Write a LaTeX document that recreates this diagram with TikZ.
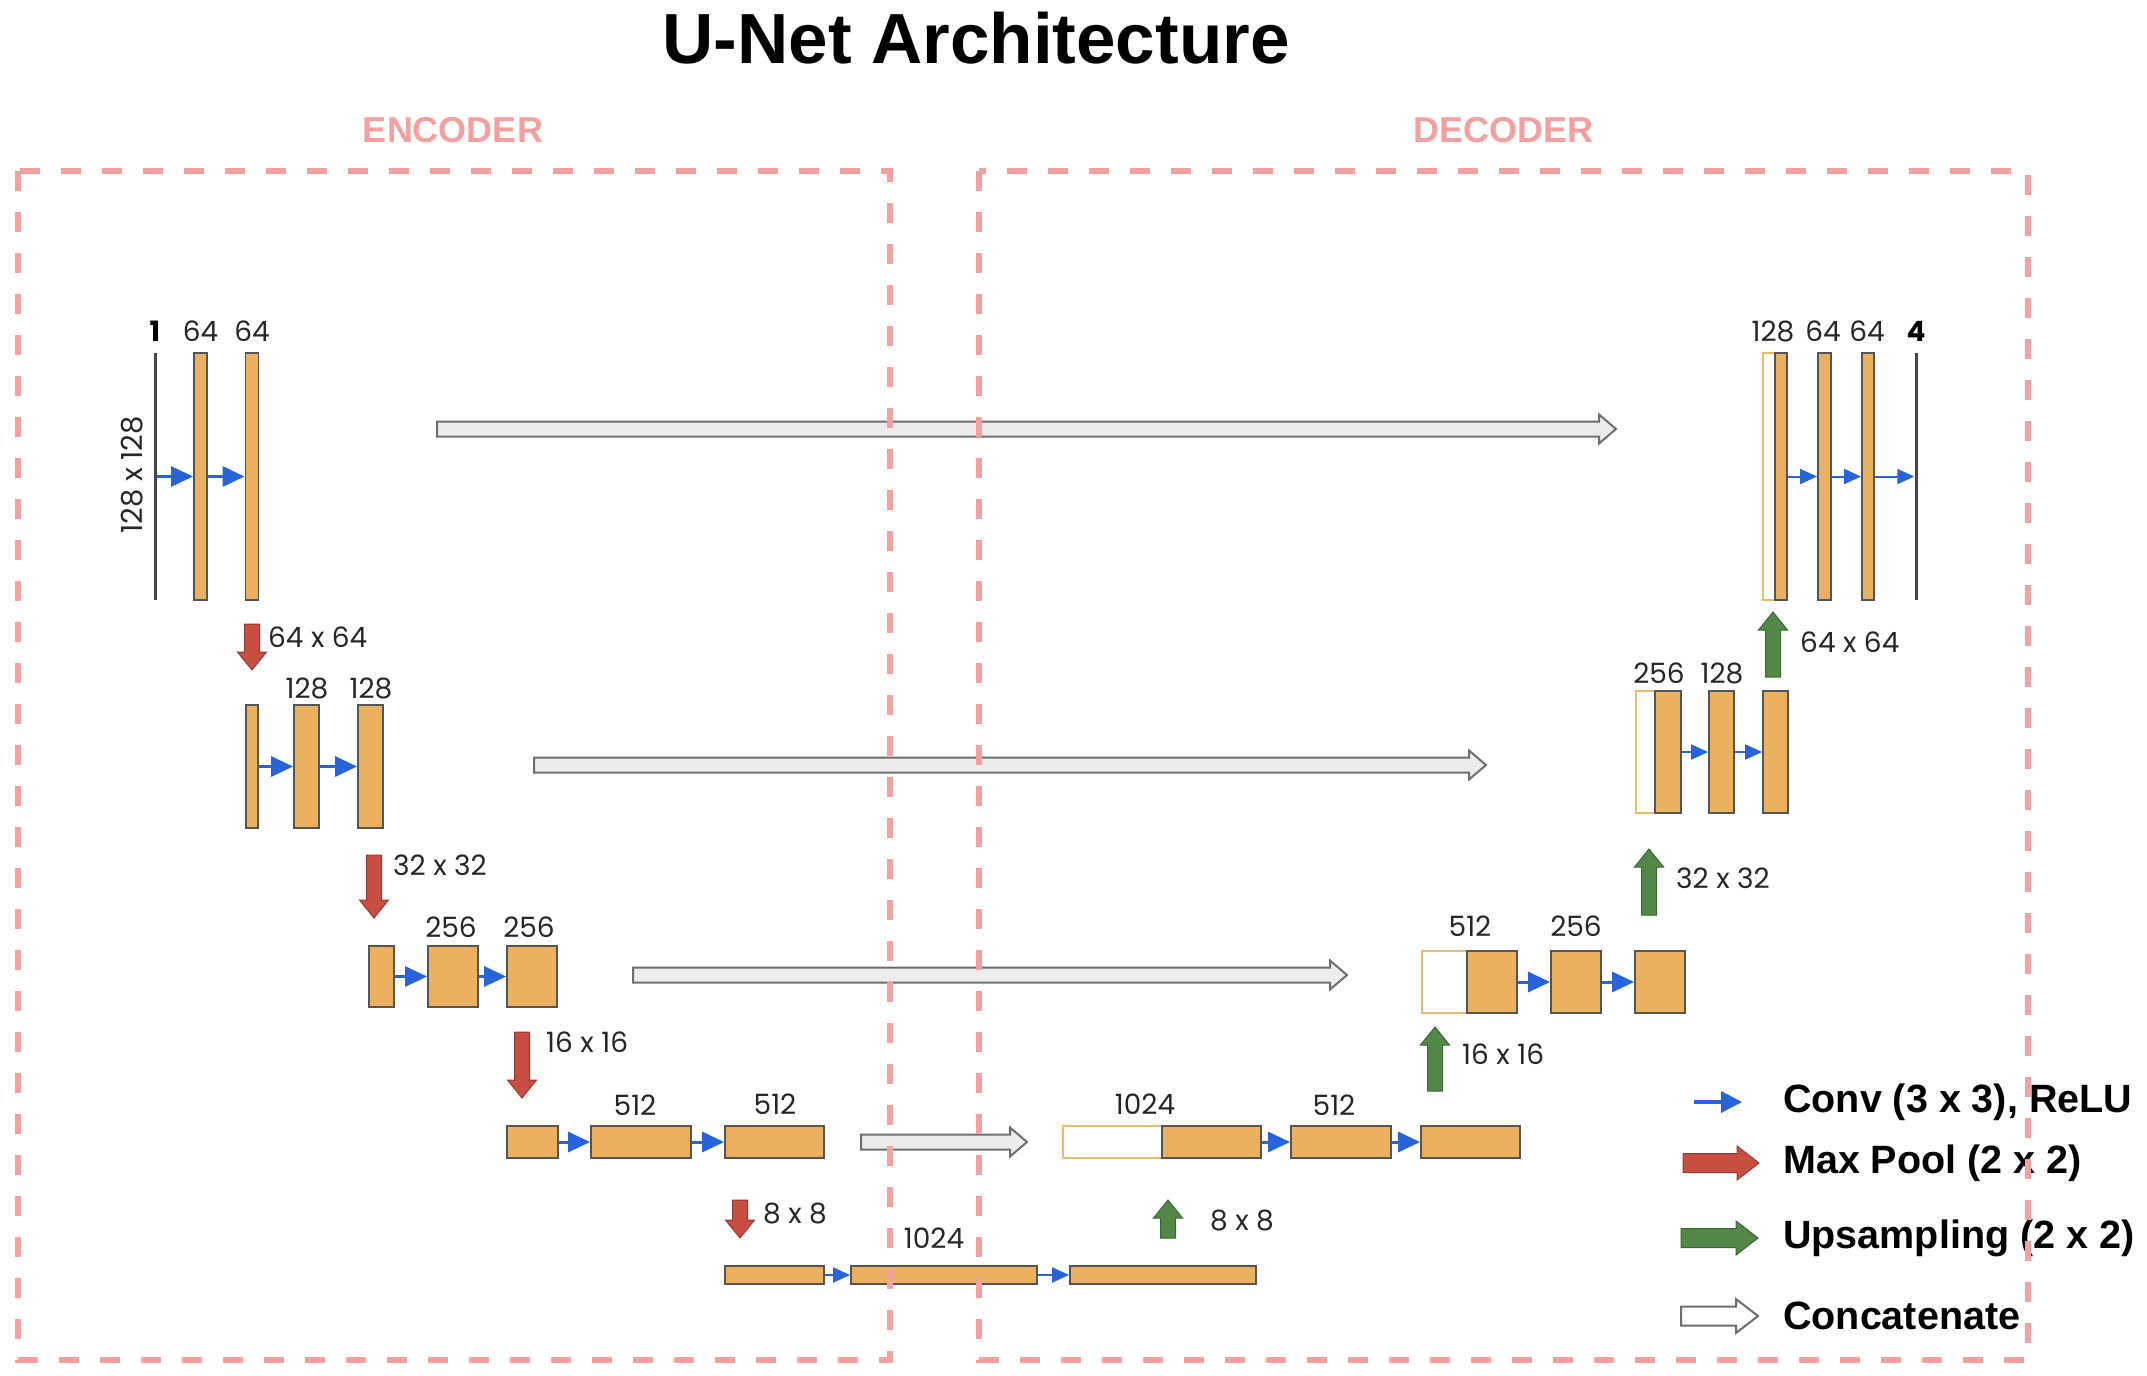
\documentclass[tikz,border=0pt]{standalone}
\usepackage{fontspec}
\setmainfont{Liberation Sans}
\newfontfamily\labfont{Poppins}
\usetikzlibrary{arrows.meta}
\definecolor{boxfill}{RGB}{234,175,95}
\definecolor{boxedge}{RGB}{85,85,85}
\definecolor{wedge}{RGB}{235,185,105}
\definecolor{linegray}{RGB}{70,70,70}
\definecolor{convblue}{RGB}{40,100,215}
\definecolor{poolred}{RGB}{200,78,66}
\definecolor{upgreen}{RGB}{82,135,72}
\definecolor{regionpink}{RGB}{243,160,160}
\definecolor{catfill}{RGB}{236,236,236}
\definecolor{catedge}{RGB}{110,110,110}
% vertical block arrow: style, x, y tail, y tip, shaft half, head half, head length
\newcommand{\vblock}[7]{%
  \pgfmathsetmacro\myvs{ifthenelse(#4>#3,1,-1)}%
  \pgfmathsetmacro\myvb{#4-\myvs*#7}%
  \filldraw[#1] ({#2-#5},#3) -- ({#2-#5},\myvb) -- ({#2-#6},\myvb) -- (#2,#4)
    -- ({#2+#6},\myvb) -- ({#2+#5},\myvb) -- ({#2+#5},#3) -- cycle;}
% horizontal block arrow: style, x tail, x tip, y, shaft half, head half, head length
\newcommand{\hblock}[7]{%
  \pgfmathsetmacro\myhs{ifthenelse(#3>#2,1,-1)}%
  \pgfmathsetmacro\myhb{#3-\myhs*#7}%
  \filldraw[#1] (#2,{#4-#5}) -- (\myhb,{#4-#5}) -- (\myhb,{#4-#6}) -- (#3,#4)
    -- (\myhb,{#4+#6}) -- (\myhb,{#4+#5}) -- (#2,{#4+#5}) -- cycle;}
\begin{document}
\begin{tikzpicture}[x=1pt,y=-1pt,
  blk/.style={draw=boxedge, fill=boxfill, line width=1.8pt, inner sep=0pt},
  wblk/.style={draw=wedge, fill=white, line width=1.5pt, inner sep=0pt},
  inln/.style={fill=linegray, draw=none, minimum width=3pt, inner sep=0pt},
  lab/.style={font=\labfont\fontsize{28}{32}\selectfont, text=black!85, inner sep=0pt},
  boldlab/.style={lab, font=\labfont\bfseries\fontsize{28}{32}\selectfont, text=black},
  dimlab/.style={lab, anchor=west},
  conv/.style={draw=convblue, line width=3pt, -{Triangle[length=22pt,width=20pt]}},
  convs/.style={draw=convblue, line width=2pt, -{Triangle[length=17pt,width=15pt]}},
  pool/.style={fill=poolred, draw=poolred!75!black, line width=1pt},
  upg/.style={fill=upgreen, draw=upgreen!75!black, line width=1pt},
  cat/.style={fill=catfill, draw=catedge, line width=2pt},
  catw/.style={fill=white, draw=catedge, line width=2pt},
  region/.style={draw=regionpink, line width=5.5pt, dash pattern=on 20pt off 21pt},
  leg/.style={anchor=west, font=\bfseries\fontsize{39.5}{44}\selectfont, inner sep=0pt}]
\useasboundingbox (0,0) rectangle (2147,1376);

% title and region names
\node[font=\bfseries\fontsize{71}{80}\selectfont] (title) at (976,38) {U-Net Architecture};
\node[font=\bfseries\fontsize{36}{40}\selectfont, text=regionpink] (enc) at (453,130) {ENCODER};
\node[font=\bfseries\fontsize{36}{40}\selectfont, text=regionpink] (dec) at (1503,130) {DECODER};

% ---------- encoder level 1 ----------
\node[inln, minimum height=247pt] (e1in) at (155,476.5) {};
\node[blk, minimum width=13pt, minimum height=247pt] (e1a) at (200.5,476.5) {};
\node[blk, minimum width=13pt, minimum height=247pt] (e1b) at (252,476.5) {};
\node[boldlab] (l1in) at (155,331) {1};
\node[lab] (l1a) at (200.5,331) {64};
\node[lab] (l1b) at (252,331) {64};
\node[lab, rotate=90, font=\labfont\fontsize{29}{32}\selectfont] (l1dim) at (132,475) {128 x 128};
\draw[conv] (e1in.east) -- (e1a.west);
\draw[conv] (e1a.east) -- (e1b.west);

% ---------- encoder level 2 ----------
\node[blk, minimum width=12pt, minimum height=123pt] (e2a) at (252,766.5) {};
\node[blk, minimum width=25pt, minimum height=123pt] (e2b) at (306.5,766.5) {};
\node[blk, minimum width=25pt, minimum height=123pt] (e2c) at (370.5,766.5) {};
\node[lab] (l2b) at (307,688) {128};
\node[lab] (l2c) at (371,688) {128};
\draw[conv] (e2a.east) -- (e2b.west);
\draw[conv] (e2b.east) -- (e2c.west);

% ---------- encoder level 3 ----------
\node[blk, minimum width=25pt, minimum height=61pt] (e3a) at (381.5,976.5) {};
\node[blk, minimum width=50pt, minimum height=61pt] (e3b) at (453,976.5) {};
\node[blk, minimum width=50pt, minimum height=61pt] (e3c) at (532,976.5) {};
\node[lab] (l3b) at (451,927) {256};
\node[lab] (l3c) at (529,927) {256};
\draw[conv] (e3a.east) -- (e3b.west);
\draw[conv] (e3b.east) -- (e3c.west);

% ---------- encoder level 4 ----------
\node[blk, minimum width=51pt, minimum height=32pt] (e4a) at (532.5,1142) {};
\node[blk, minimum width=100pt, minimum height=32pt] (e4b) at (641,1142) {};
\node[blk, minimum width=99pt, minimum height=32pt] (e4c) at (774.5,1142) {};
\node[lab] (l4b) at (635,1105) {512};
\node[lab] (l4c) at (775,1104) {512};
\draw[conv] (e4a.east) -- (e4b.west);
\draw[conv] (e4b.east) -- (e4c.west);

% ---------- bottleneck ----------
\node[blk, minimum width=99pt, minimum height=18pt] (b5a) at (774.5,1275) {};
\node[blk, minimum width=186pt, minimum height=18pt] (b5b) at (944,1275) {};
\node[blk, minimum width=186pt, minimum height=18pt] (b5c) at (1163,1275) {};
\node[lab] (l5b) at (934,1238) {1024};
\draw[convs] (b5a.east) -- (b5b.west);
\draw[convs] (b5b.east) -- (b5c.west);

% ---------- decoder level 4 ----------
\node[wblk, minimum width=99pt, minimum height=32pt] (d4w) at (1112.5,1142) {};
\node[blk, minimum width=99pt, minimum height=32pt] (d4a) at (1211.5,1142) {};
\node[blk, minimum width=100pt, minimum height=32pt] (d4b) at (1341,1142) {};
\node[blk, minimum width=99pt, minimum height=32pt] (d4c) at (1470.5,1142) {};
\node[lab] (ld4a) at (1145,1104) {1024};
\node[lab] (ld4b) at (1334,1105) {512};
\draw[conv] (d4a.east) -- (d4b.west);
\draw[conv] (d4b.east) -- (d4c.west);

% ---------- decoder level 3 ----------
\node[wblk, minimum width=45pt, minimum height=62pt] (d3w) at (1444.5,982) {};
\node[blk, minimum width=50pt, minimum height=62pt] (d3a) at (1492,982) {};
\node[blk, minimum width=50pt, minimum height=62pt] (d3b) at (1576,982) {};
\node[blk, minimum width=50pt, minimum height=62pt] (d3c) at (1660,982) {};
\node[lab] (ld3a) at (1470,926) {512};
\node[lab] (ld3b) at (1576,926) {256};
\draw[conv] (d3a.east) -- (d3b.west);
\draw[conv] (d3b.east) -- (d3c.west);

% ---------- decoder level 2 ----------
\node[wblk, minimum width=19pt, minimum height=122pt] (d2w) at (1645.5,752) {};
\node[blk, minimum width=26pt, minimum height=122pt] (d2a) at (1668,752) {};
\node[blk, minimum width=25pt, minimum height=122pt] (d2b) at (1721.5,752) {};
\node[blk, minimum width=25pt, minimum height=122pt] (d2c) at (1775.5,752) {};
\node[lab] (ld2a) at (1659,673) {256};
\node[lab] (ld2b) at (1722,673) {128};
\draw[convs] (d2a.east) -- (d2b.west);
\draw[convs] (d2b.east) -- (d2c.west);

% ---------- decoder level 1 ----------
\node[wblk, minimum width=12pt, minimum height=247pt] (d1w) at (1769,476.5) {};
\node[blk, minimum width=12pt, minimum height=247pt] (d1a) at (1781,476.5) {};
\node[blk, minimum width=13pt, minimum height=247pt] (d1b) at (1824.5,476.5) {};
\node[blk, minimum width=12pt, minimum height=247pt] (d1c) at (1868,476.5) {};
\node[inln, minimum height=247pt] (d1out) at (1916,476.5) {};
\node[lab] (ld1a) at (1773,331) {128};
\node[lab] (ld1b) at (1823,331) {64};
\node[lab] (ld1c) at (1867,331) {64};
\node[boldlab] (ld1out) at (1916,331) {4};
\draw[convs] (d1a.east) -- (d1b.west);
\draw[convs] (d1b.east) -- (d1c.west);
\draw[convs] (d1c.east) -- (d1out.west);

% ---------- skip connections (concatenate) ----------
\hblock{cat}{437}{1616}{429}{7.5}{14.5}{17}
\hblock{cat}{534}{1486}{765}{7.5}{14.5}{17}
\hblock{cat}{633}{1347}{975}{7.5}{14.5}{17}
\hblock{cat}{861}{1027}{1142}{7.5}{14.5}{17}

% ---------- max pool arrows ----------
\vblock{pool}{252}{624}{670}{7.5}{14.5}{18}
\vblock{pool}{374}{855}{918}{7.5}{14.5}{18}
\vblock{pool}{522}{1032}{1098}{7.5}{14.5}{18}
\vblock{pool}{740}{1200}{1238}{7.5}{14.5}{18}
\node[dimlab] (p1) at (268,637) {64 x 64};
\node[dimlab] (p2) at (393,865) {32 x 32};
\node[dimlab] (p3) at (546,1042) {16 x 16};
\node[dimlab] (p4) at (763,1213) {8 x 8};

% ---------- upsampling arrows ----------
\vblock{upg}{1168}{1238}{1200}{7.5}{14.5}{18}
\vblock{upg}{1435}{1091}{1027}{7.5}{14.5}{18}
\vblock{upg}{1649}{915}{849}{7.5}{14.5}{18}
\vblock{upg}{1773}{677}{612}{7.5}{14.5}{18}
\node[dimlab] (u1) at (1210,1220) {8 x 8};
\node[dimlab] (u2) at (1462,1054) {16 x 16};
\node[dimlab] (u3) at (1676,878) {32 x 32};
\node[dimlab] (u4) at (1800,642) {64 x 64};

% ---------- legend ----------
\coordinate (lgA) at (1694,1102);
\coordinate (lgB) at (1742,1102);
\draw[draw=convblue, line width=3.5pt, -{Triangle[length=21pt,width=21pt]}] (lgA) -- (lgB);
\hblock{pool}{1683}{1759}{1163}{9.5}{17}{22}
\hblock{upg}{1681}{1758}{1238}{9.5}{17}{22}
\hblock{catw}{1681}{1758}{1316}{9.5}{17}{22}
\node[leg] (tconv) at (1783,1102) {Conv (3 x 3), ReLU};
\node[leg] (tpool) at (1783,1163) {Max Pool (2 x 2)};
\node[leg] (tup) at (1783,1238) {Upsampling (2 x 2)};
\node[leg] (tcat) at (1783,1316) {Concatenate};

% ---------- region boxes (on top) ----------
\draw[region] (18,171) rectangle (890,1360);
\draw[region] (979,171) rectangle (2028,1360);
\end{tikzpicture}
\end{document}
